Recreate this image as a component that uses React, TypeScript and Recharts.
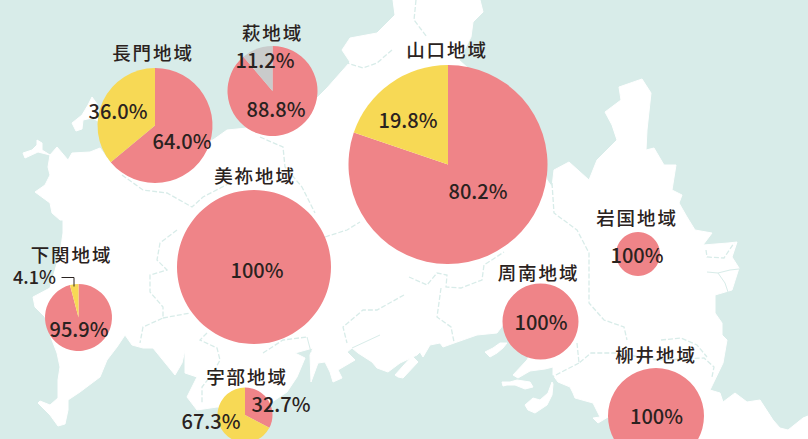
import { PieChart, Pie, Cell } from 'recharts';

// share of each area
const regionNames = ['長門地域', '萩地域', '山口地域', '美祢地域', '下関地域', '宇部地域', '岩国地域', '周南地域', '柳井地域'];
const mainValues = [64.0, 88.8, 80.2, 100, 95.9, 32.7, 100, 100, 100];
const otherValues = [36.0, 11.2, 19.8, 0, 4.1, 67.3, 0, 0, 0];
const mainLabels = ['64.0%', '88.8%', '80.2%', '100%', '95.9%', '32.7%', '100%', '100%', '100%'];
const otherLabels = ['36.0%', '11.2%', '19.8%', '', '4.1%', '67.3%', '', '', ''];

const RED = '#EF8488';
const YELLOW = '#F7D955';
const GREY = '#C9CBCB';
const SEA = '#D8ECE9';
const INK = '#2A2220';
const FONT = '"Noto Sans CJK JP", "Noto Sans", sans-serif';

// where each pie and its texts sit: cx, cy, r, name x/y, main label x/y, other label x/y
const LAYOUT = [
  { cx: 155, cy: 125.5, r: 57.5, nx: 153, ny: 60, mx: 182, my: 149, ox: 118, oy: 119, osize: 20, other: YELLOW },
  { cx: 272.5, cy: 91, r: 45, nx: 272.5, ny: 40, mx: 276, my: 117, ox: 265, oy: 68, osize: 20, other: GREY },
  { cx: 448, cy: 164.5, r: 99.5, nx: 447, ny: 57, mx: 478, my: 199, ox: 408, oy: 128, osize: 20, other: YELLOW },
  { cx: 254, cy: 267, r: 77, nx: 255, ny: 183, mx: 257, my: 278, ox: 0, oy: 0, osize: 20, other: YELLOW },
  { cx: 78.5, cy: 317.5, r: 33.5, nx: 71.5, ny: 262, mx: 79, my: 337, ox: 34.5, oy: 284, osize: 18, other: YELLOW },
  { cx: 245, cy: 415, r: 27.5, nx: 247, ny: 384, mx: 281, my: 412, ox: 211, oy: 429, osize: 20, other: YELLOW },
  { cx: 638, cy: 254, r: 22, nx: 637, ny: 225, mx: 637, my: 263, ox: 0, oy: 0, osize: 20, other: YELLOW },
  { cx: 540.5, cy: 321.5, r: 38, nx: 538.5, ny: 280, mx: 541, my: 330, ox: 0, oy: 0, osize: 20, other: YELLOW },
  { cx: 656, cy: 416, r: 48, nx: 656, ny: 362, mx: 656.5, my: 424, ox: 0, oy: 0, osize: 20, other: YELLOW },
];

// rough trace of the land behind the chart
const LAND = 'M393,0 L480,0 483,12 473,22 471,37 459,60 470,70 540,140 547,180 552,187 554,170 569,162 589,180 597,160 617,140 612,125 605,112 621,100 619,87 642,79 651,93 647,130 646,150 654,148 664,165 676,165 672,190 682,195 679,203 687,217 695,230 712,233 703,245 728,243 737,242 732,257 739,268 732,290 715,295 715,313 722,323 722,335 727,340 723,363 710,390 720,393 723,402 735,393 747,402 760,400 773,420 780,428 788,430 803,418 808,416 808,439 650,439 620,420 608,417 598,423 593,418 600,417 593,403 575,398 573,393 570,387 558,382 553,375 553,367 545,369 530,371 518,378 513,375 527,360 535,345 510,330 503,325 497,333 477,335 457,342 443,347 440,343 430,345 423,357 420,352 417,355 400,363 388,372 377,368 372,362 358,353 352,348 347,352 355,360 338,370 342,378 333,382 330,372 325,362 318,363 311,382 310,355 313,348 295,353 305,358 297,377 287,392 272,402 250,410 217,407 197,410 187,397 197,377 185,373 185,350 182,363 175,375 153,348 143,348 132,345 125,335 117,347 107,360 100,377 80,392 68,400 68,410 65,424 58,426 50,415 38,403 40,401 50,405 58,398 58,380 60,367 57,353 52,340 45,317 35,307 33,297 50,288 60,253 63,233 63,220 60,220 52,213 50,203 35,192 45,185 50,175 48,167 50,155 57,147 68,160 72,153 90,152 100,148 110,162 155,150 213,140 227,130 247,128 267,127 315,100 327,88 350,62 342,50 350,38 377,33 388,22 395,15 Z';
const ISLANDS = [
  'M395,375 L398,377 403,378 418,362 412,356 Z',
  'M485,352 L490,357 497,353 503,348 507,343 500,343 493,348 Z',
  'M502,382 L510,382 517,380 530,382 533,387 525,389 515,385 507,385 503,386 Z',
  'M525,405 L533,398 540,400 548,393 552,382 553,384 552,395 547,405 535,413 528,410 Z',
  'M23,153 L25,158 38,152 50,155 42,150 42,143 37,140 37,145 32,150 Z',
  'M72,123 L76,131 82,129 83,120 92,118 100,122 97,104 92,97 88,105 82,115 Z',
];
const BORDERS = [
  'M392,50 L377,63 363,68 347,63',
  'M260,137 L283,147 285,167 302,187 315,213',
  'M122,175 L143,190 167,193 192,207 203,197 230,183',
  'M416,0 L414,20 427,37',
  'M552,183 L554,213 577,230 589,253 589,303 604,320 624,327 627,340',
  'M409,277 L427,285 437,273 447,275 446,287 461,288 474,283 482,280 484,265 504,252',
  'M441,288 L437,317 451,327 454,342',
  'M577,343 L579,363 591,353 617,353 657,360 704,358 714,367 712,377',
  'M579,363 L552,377',
  'M661,340 L681,338 697,345 707,357',
  'M706,250 L707,257 724,258 734,243',
  'M177,230 L160,243 157,260 167,270 150,275 150,292 163,307 163,318 143,327 140,343',
  'M163,318 L190,313',
  'M207,333 L200,340 217,348 220,360 213,373 202,387 202,403',
  'M263,353 L283,340 307,337',
  'M325,237 L347,230 360,222',
  'M404,295 L377,310 363,310 343,327 347,343',
];
const RIVERS = [
  'M707,272 L718,273 730,270 739,269',
  'M718,273 L725,283 728,292',
  'M307,337 L311,352',
  'M352,348 L380,335',
];

const App = () => {
  return (
    <div style={{ position: 'fixed', left: 0, top: 0, width: 808, height: 439, overflow: 'hidden', background: SEA }}>
      <svg width={808} height={439} style={{ position: 'absolute', left: 0, top: 0 }}>
        <path d={LAND} fill="#fff" stroke="#fff" strokeLinejoin="round" />
        {ISLANDS.map((d, i) => <path key={i} d={d} fill="#fff" stroke="#fff" strokeLinejoin="round" />)}
        {BORDERS.map((d, i) => <path key={i} d={d} fill="none" stroke={SEA} strokeWidth={1.3} strokeDasharray="5 2" />)}
        {RIVERS.map((d, i) => <path key={i} d={d} fill="none" stroke={SEA} strokeWidth={1} />)}
      </svg>
      <div style={{ position: 'absolute', left: 0, top: 0 }}>
        <PieChart width={808} height={439} margin={{ top: 0, right: 0, bottom: 0, left: 0 }}>
          {LAYOUT.map((p, i) => {
            const rows = [
              { name: 'main', value: mainValues[i] },
              { name: 'other', value: otherValues[i] },
            ].filter(row => row.value > 0);
            return (
              <Pie
                key={regionNames[i]}
                data={rows}
                dataKey="value"
                cx={p.cx}
                cy={p.cy}
                innerRadius={0}
                outerRadius={p.r}
                startAngle={90}
                endAngle={-270}
                stroke="none"
                isAnimationActive={false}
              >
                {rows.map((row, j) => (
                  <Cell key={j} fill={row.name === 'main' ? RED : p.other} />
                ))}
              </Pie>
            );
          })}
        </PieChart>
      </div>
      {/* pies paint over plain svg children, so the texts get their own layer */}
      <svg width={808} height={439} style={{ position: 'absolute', left: 0, top: 0 }}>
        <path d="M61.5,277.5 H74 V286.5" fill="none" stroke={INK} strokeWidth={1} />
        {LAYOUT.map((p, i) => (
          <g key={regionNames[i]} fontFamily={FONT} fontWeight={500} fill={INK} textAnchor="middle">
            <text x={p.nx} y={p.ny} fontSize={18.5} letterSpacing={1.9}>{regionNames[i]}</text>
            <text x={p.mx} y={p.my} fontSize={20}>{mainLabels[i]}</text>
            {otherLabels[i] && <text x={p.ox} y={p.oy} fontSize={p.osize}>{otherLabels[i]}</text>}
          </g>
        ))}
      </svg>
    </div>
  );
};

export default App;
